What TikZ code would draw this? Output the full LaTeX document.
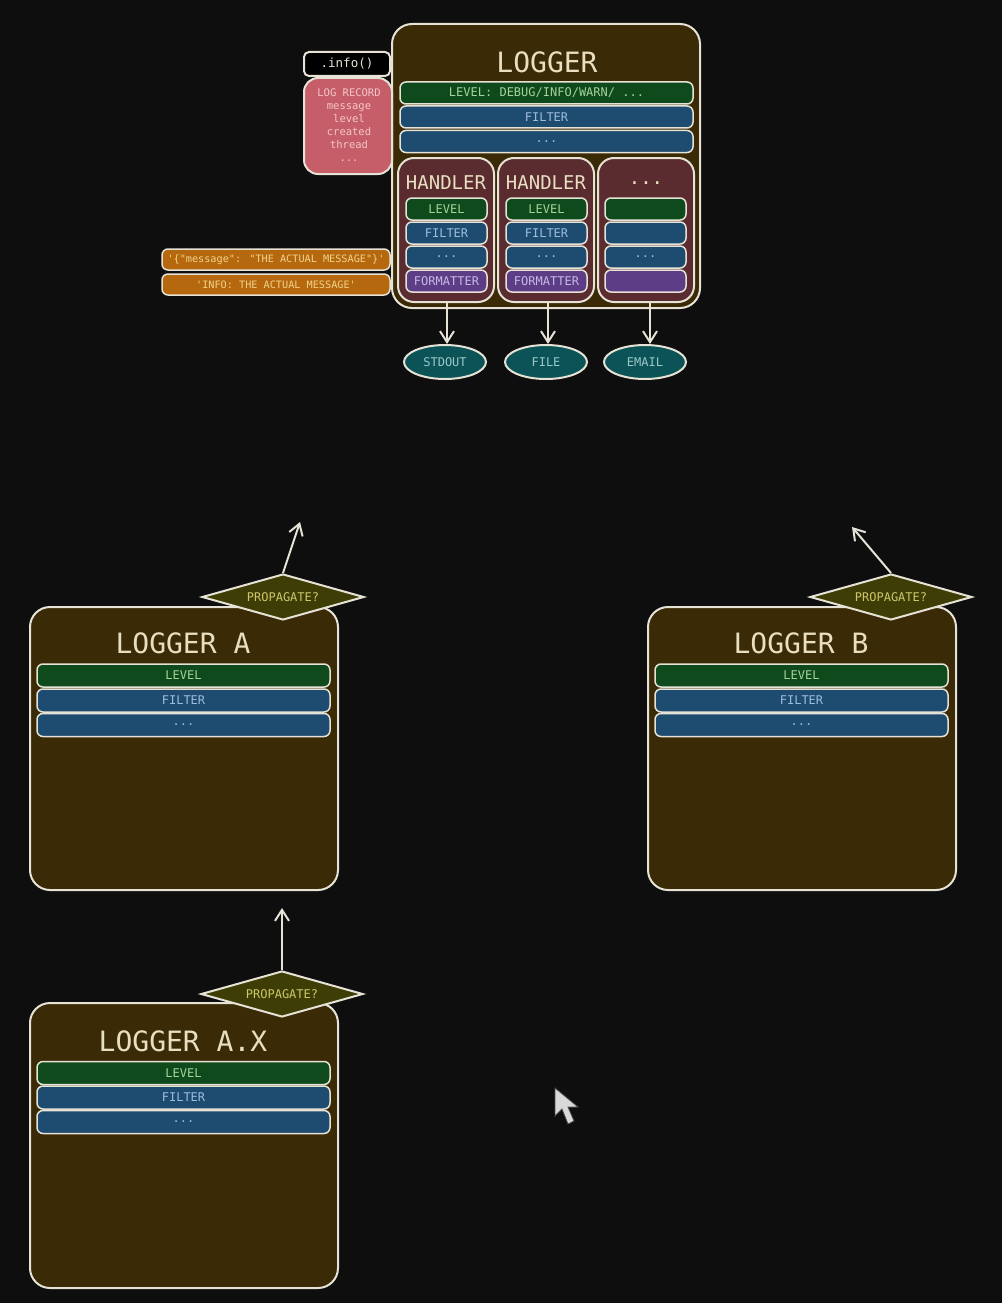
\documentclass[tikz,border=0pt]{standalone}
\usepackage{fontspec}
\newfontfamily\mono{DejaVu Sans Mono}
\usetikzlibrary{shapes.geometric,arrows.meta}
\definecolor{bgc}{HTML}{0E0E0E}
\definecolor{linec}{HTML}{E6E2D6}
\definecolor{brownc}{HTML}{3A2A06}
\definecolor{greenc}{HTML}{0E4A1C}
\definecolor{bluec}{HTML}{1D4C70}
\definecolor{handlerc}{HTML}{5A2C30}
\definecolor{pinkc}{HTML}{C65E6A}
\definecolor{orangec}{HTML}{B5680E}
\definecolor{tealc}{HTML}{0B5356}
\definecolor{olivec}{HTML}{3E3D06}
\definecolor{purplec}{HTML}{5C3D86}
\definecolor{creamt}{HTML}{E8DEC0}
\definecolor{greent}{HTML}{A6D39A}
\definecolor{bluet}{HTML}{9DBCE0}
\definecolor{pinkt}{HTML}{F4C6C6}
\definecolor{oranget}{HTML}{F2D48A}
\definecolor{tealt}{HTML}{9CC8C8}
\definecolor{olivet}{HTML}{CDC86A}
\definecolor{purplet}{HTML}{C9B8E6}
\newcommand\myfs[1]{\fontsize{#1}{#1}\selectfont}
\begin{document}
\begin{tikzpicture}[x=1pt,y=-1pt,
  lbox/.style={draw=linec, line width=2pt, fill=brownc, rounded corners=20pt, inner sep=0pt},
  hbox/.style={draw=linec, line width=2pt, fill=handlerc, rounded corners=16pt, inner sep=0pt, minimum width=96pt, minimum height=144pt},
  bar/.style={draw=linec, line width=1.5pt, rounded corners=6pt, inner sep=0pt, font=\mono\myfs{12}},
  gbar/.style={bar, fill=greenc, text=greent},
  bbar/.style={bar, fill=bluec, text=bluet},
  pbar/.style={bar, fill=purplec, text=purplet},
  obar/.style={bar, fill=orangec, text=oranget, font=\mono\myfs{10.2}, minimum width=228pt, minimum height=21pt},
  mbar/.style={minimum width=293pt, minimum height=23pt},
  hbar/.style={minimum width=81pt, minimum height=22pt},
  bigtitle/.style={text=creamt, font=\mono\myfs{28}, inner sep=0pt},
  htitle/.style={text=creamt, font=\mono\myfs{19}, inner sep=0pt},
  dest/.style={ellipse, draw=linec, line width=2pt, fill=tealc, text=tealt, font=\mono\myfs{12}, inner sep=0pt, minimum width=82pt, minimum height=34pt},
  prop/.style={diamond, draw=linec, line width=2pt, fill=olivec, text=olivet, font=\mono\myfs{12}, inner sep=0pt, aspect=3.5, minimum width=162pt, minimum height=46pt},
  arr/.style={draw=linec, line width=2pt, -{Straight Barb[length=11pt,width=14pt,line width=2pt]}}
]
\useasboundingbox (0,0) rectangle (1002,1303);
\fill[bgc] (0,0) rectangle (1002,1303);

% ---- main logger ----
\node[lbox, minimum width=308pt, minimum height=284pt] (logger) at (546,166) {};
\node[bigtitle] (loggerT) at (547,62) {LOGGER};
\node[gbar, mbar, minimum height=22pt] (lLevel) at (546.5,93) {LEVEL: DEBUG/INFO/WARN/ ...};
\node[bbar, mbar, minimum height=22pt] (lFilter) at (546.5,117) {FILTER};
\node[bbar, mbar, minimum height=22pt] (lDots) at (546.5,141.5) {...};

% info + log record
\node[draw=linec, line width=2pt, fill=black, rounded corners=5pt, minimum width=86pt, minimum height=24pt, inner sep=0pt, text=linec, font=\mono\myfs{12.5}] (info) at (347,64) {.info()};
\node[draw=linec, line width=2pt, fill=pinkc, rounded corners=14pt, minimum width=88pt, minimum height=96pt, inner sep=0pt] (rec) at (348,126) {};
\node[text=pinkt, font=\mono\myfs{10.5}, align=center, inner sep=0pt] (recT) at (349,125) {LOG RECORD\\[2.6pt]message\\[2.6pt]level\\[2.6pt]created\\[2.6pt]thread\\[2.6pt]...};

% orange strings
\node[obar] (json) at (276,259.5) {'\{"message": "THE ACTUAL MESSAGE"\}'};
\node[obar] (plain) at (276,284.5) {'INFO: THE ACTUAL MESSAGE'};

% handlers
\node[hbox] (h1) at (446,230) {};
\node[htitle] (h1T) at (446,183) {HANDLER};
\node[hbox] (h2) at (546,230) {};
\node[htitle] (h2T) at (546,183) {HANDLER};
\node[hbox] (h3) at (646,230) {};
\node[htitle] (h3T) at (646,183) {...};
\node[gbar, hbar] (h1L) at (446.5,209) {LEVEL};
\node[bbar, hbar] (h1F) at (446.5,233) {FILTER};
\node[bbar, hbar] (h1D) at (446.5,257) {...};
\node[pbar, hbar] (h1M) at (446.5,281) {FORMATTER};
\node[gbar, hbar] (h2L) at (546.5,209) {LEVEL};
\node[bbar, hbar] (h2F) at (546.5,233) {FILTER};
\node[bbar, hbar] (h2D) at (546.5,257) {...};
\node[pbar, hbar] (h2M) at (546.5,281) {FORMATTER};
\node[gbar, hbar] (h3L) at (645.5,209) {};
\node[bbar, hbar] (h3F) at (645.5,233) {};
\node[bbar, hbar] (h3D) at (645.5,257) {...};
\node[pbar, hbar] (h3M) at (645.5,281) {};

% destinations
\node[dest] (stdout) at (445,362) {STDOUT};
\node[dest] (file) at (546,362) {FILE};
\node[dest] (email) at (645,362) {EMAIL};
\draw[arr] ([xshift=1pt]h1.south) -- ([xshift=1pt]h1.south |- stdout.north);
\draw[arr] ([xshift=2pt]h2.south) -- ([xshift=2pt]h2.south |- file.north);
\draw[arr] ([xshift=4pt]h3.south) -- ([xshift=4pt]h3.south |- email.north);

% ---- logger A ----
\node[lbox, minimum width=308pt, minimum height=283pt] (la) at (184,748.5) {};
\node[bigtitle] (laT) at (183,643) {LOGGER A};
\node[gbar, mbar] (laL) at (183.5,675.5) {LEVEL};
\node[bbar, mbar] (laF) at (183.5,700.5) {FILTER};
\node[bbar, mbar] (laD) at (183.5,725) {...};
\node[prop] (pa) at (283,597) {PROPAGATE?};
\coordinate (pa2) at (300,522);
\draw[arr] (pa.north) -- (pa2);

% ---- logger B ----
\node[lbox, minimum width=308pt, minimum height=283pt] (lb) at (802,748.5) {};
\node[bigtitle] (lbT) at (801,643) {LOGGER B};
\node[gbar, mbar] (lbL) at (801.5,675.5) {LEVEL};
\node[bbar, mbar] (lbF) at (801.5,700.5) {FILTER};
\node[bbar, mbar] (lbD) at (801.5,725) {...};
\node[prop] (pb) at (891,597) {PROPAGATE?};
\coordinate (pb2) at (852,527);
\draw[arr] (pb.north) -- (pb2);

% ---- logger A.X ----
\node[lbox, minimum width=308pt, minimum height=285pt] (lax) at (184,1145.5) {};
\node[bigtitle] (laxT) at (183,1041) {LOGGER A.X};
\node[gbar, mbar] (laxL) at (183.5,1073) {LEVEL};
\node[bbar, mbar] (laxF) at (183.5,1097.5) {FILTER};
\node[bbar, mbar] (laxD) at (183.5,1122) {...};
\node[prop] (pax) at (282,994) {PROPAGATE?};
\coordinate (pax2) at (282,908);
\draw[arr] (pax.north) -- (pax2);

% cursor
\filldraw[fill=black!15, draw=black!70, line width=0.8pt] (555,1088) -- (555,1116) -- (562,1109) -- (568,1124) -- (574,1121) -- (568,1107) -- (578,1107) -- cycle;
\end{tikzpicture}
\end{document}
